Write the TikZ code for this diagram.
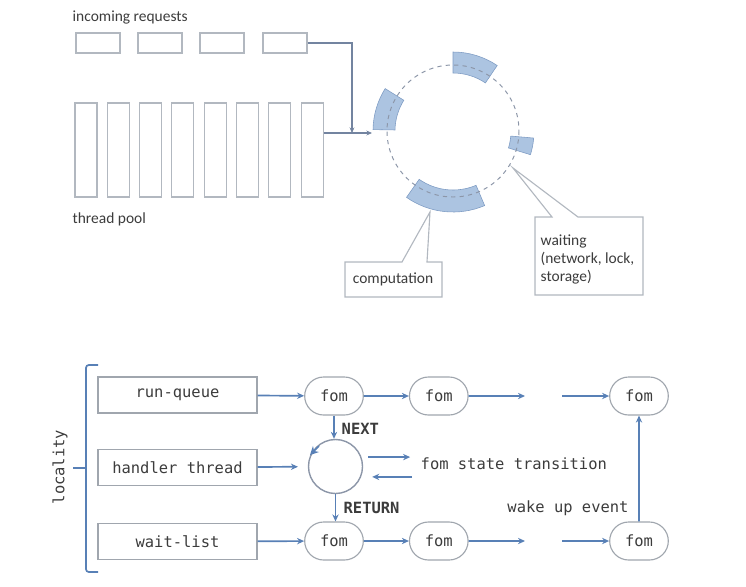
\documentclass[tikz,border=0pt]{standalone}
\usepackage{fontspec}
\setmainfont{Carlito}
\setmonofont{DejaVu Sans Mono}
\usepackage{tikz}
\usetikzlibrary{arrows.meta, positioning, calc, shapes.misc}
\definecolor{flowblue}{RGB}{88,128,182}
\definecolor{feedgray}{RGB}{115,132,160}
\definecolor{boxgray}{RGB}{178,184,192}
\definecolor{qgray}{RGB}{160,166,174}
\definecolor{ringgray}{RGB}{140,150,168}
\definecolor{bandblue}{RGB}{158,186,220}
\definecolor{bandedge}{RGB}{125,155,195}
\definecolor{textgray}{RGB}{60,60,60}
\tikzset{
  note/.style={text=textgray, font=\fontsize{11}{13}\selectfont, inner sep=1pt},
  mono/.style={text=textgray, font=\ttfamily\fontsize{11}{13}\selectfont, inner sep=1pt},
  monobold/.style={text=textgray, font=\ttfamily\bfseries\fontsize{11}{13}\selectfont, inner sep=1pt},
  reqbox/.style={rectangle, draw=boxgray, fill=white, minimum width=1.1cm, minimum height=0.5cm, line width=0.8pt},
  thrbox/.style={rectangle, draw=boxgray, fill=white, minimum width=0.55cm, minimum height=2.35cm, line width=0.8pt},
  band/.style={fill=bandblue, draw=bandedge, line width=0.4pt, fill opacity=0.85},
  ring/.style={draw=ringgray, dashed, line width=0.7pt},
  callout/.style={draw=boxgray, fill=white, line width=0.8pt},
  qbox/.style={rectangle, draw=qgray, fill=white, minimum width=3.975cm, minimum height=0.9cm, line width=0.8pt, font=\ttfamily\fontsize{11}{13}\selectfont, text=textgray},
  fom/.style={rounded rectangle, draw=qgray, fill=white, minimum width=1.7cm, minimum height=0.95cm, line width=0.8pt, font=\ttfamily\fontsize{11}{13}\selectfont, text=textgray},
  flow/.style={-{Stealth[length=5pt,width=4.5pt]}, line width=1.2pt, color=flowblue},
  feed/.style={-{Stealth[length=4pt,width=3.5pt]}, line width=1pt, color=feedgray},
  brace/.style={draw=flowblue, line width=1.2pt, rounded corners=2pt}
}
% ring segment around (ctr): start angle, end angle, inner radius, outer radius
\newcommand{\ringseg}[4]{%
  \filldraw[band] ($(ctr)+(#1:#3)$) arc[start angle=#1, end angle=#2, radius=#3]
    -- ($(ctr)+(#2:#4)$) arc[start angle=#2, end angle=#1, radius=#4] -- cycle;}

\begin{document}
\begin{tikzpicture}[x=0.025cm, y=-0.025cm]
  \useasboundingbox (0,0) rectangle (746,587);

  % Incoming requests and thread pool
  \node[note, anchor=west] (inlbl) at (71,18) {incoming requests};
  \foreach \i/\x in {1/98,2/160,3/222,4/285}
    \node[reqbox] (req\i) at (\x,43) {};
  \foreach \i in {1,...,8}
    \node[thrbox] (thr\i) at ({86+32.3*(\i-1)},150) {};
  \node[note, anchor=west] (poollbl) at (71,219) {thread pool};

  % Event loop with busy segments
  \coordinate (ctr) at (453,131);
  \ringseg{-56}{-90}{58}{79}
  \ringseg{-148}{-179}{58}{80}
  \ringseg{5}{17}{58}{81}
  \ringseg{-235}{-293}{59}{81}
  \draw[ring] (ctr) circle [radius=66];

  \coordinate (merge) at (352,133);
  \coordinate (entry) at (372,133);
  \draw[feed] (req4.east) -| (merge);
  \draw[feed] (thr8.east |- entry) -- (entry);

  % Callouts
  \draw[callout] (345,262) -- (402,262) -- (430,212) -- (427,262) -- (442,262)
    -- (442,297) -- (345,297) -- cycle;
  \node[note] (comp) at (393,279) {computation};
  \draw[callout] (535,217) -- (552,217) -- (513,168) -- (578,217) -- (643,217)
    -- (643,295) -- (535,295) -- cycle;
  \node[note, anchor=north west, align=left] (wait) at (539,233)
    {waiting\\(network, lock,\\storage)};

  % Locality
  \draw[brace] (98,365) -- (86,365) -- (86,572) -- (98,572);
  \draw[brace] (73,468) -- (86,468);
  \node[mono, rotate=90] (loc) at (60,467) {locality};

  \node[qbox] (rq) at (177.5,395) {run-queue};
  \node[qbox] (ht) at (177.5,467.5) {handler thread};
  \node[qbox] (wl) at (177.5,541.5) {wait-list};

  \node[fom] (fa) at (334,396) {fom};
  \node[fom, right=1.125cm of fa] (fb) {fom};
  \node[fom] (fc) at (639,396) {fom};
  \node[fom] (fd) at (334,541) {fom};
  \node[fom, right=1.125cm of fd] (fe) {fom};
  \node[fom] (ff) at (639,541) {fom};

  \node[circle, draw=ringgray, line width=1pt, minimum size=1.35cm] (hc) at (335.5,466.5) {};
  \coordinate (spinA) at (319,446);
  \coordinate (spinB) at (310,455);
  \draw[flowblue, line width=1.2pt, -{Stealth[length=6pt,width=6pt]}] (spinA) -- (spinB);

  \coordinate (ra) at (525,396);
  \coordinate (rb) at (562,396);
  \coordinate (rc) at (525,541);
  \coordinate (rd) at (562,541);

  \draw[flow] (rq) -- (fa);
  \draw[flow] (fa) -- (fb);
  \draw[flow] (fb) -- (ra);
  \draw[flow] (rb) -- (fc);
  \draw[flow] (wl) -- (fd);
  \draw[flow] (fd) -- (fe);
  \draw[flow] (fe) -- (rc);
  \draw[flow] (rd) -- (ff);
  \draw[flow, shorten >=7pt] (ht) -- (hc);

  \draw[flow] (fa.south) -- (fa.south |- hc.north);
  \node[monobold, anchor=west] (nextlbl) at (340,429) {NEXT};
  \draw[flow] (hc.south) -- (hc.south |- fd.north);
  \node[monobold, anchor=west] (retlbl) at (342,508) {RETURN};

  \node[mono, anchor=west] (fst) at (419,464) {fom state transition};
  \draw[flow] ([shift={(3.5pt,6.7pt)}]hc.east) -- ++(42,0);
  \draw[flow] ([shift={(1.225cm,-0.26cm)}]hc.east) -- ++(-40,0);

  \node[mono] (wake) at (568,508) {wake up event};
  \draw[flow] (ff) -- (fc);
\end{tikzpicture}
\end{document}
